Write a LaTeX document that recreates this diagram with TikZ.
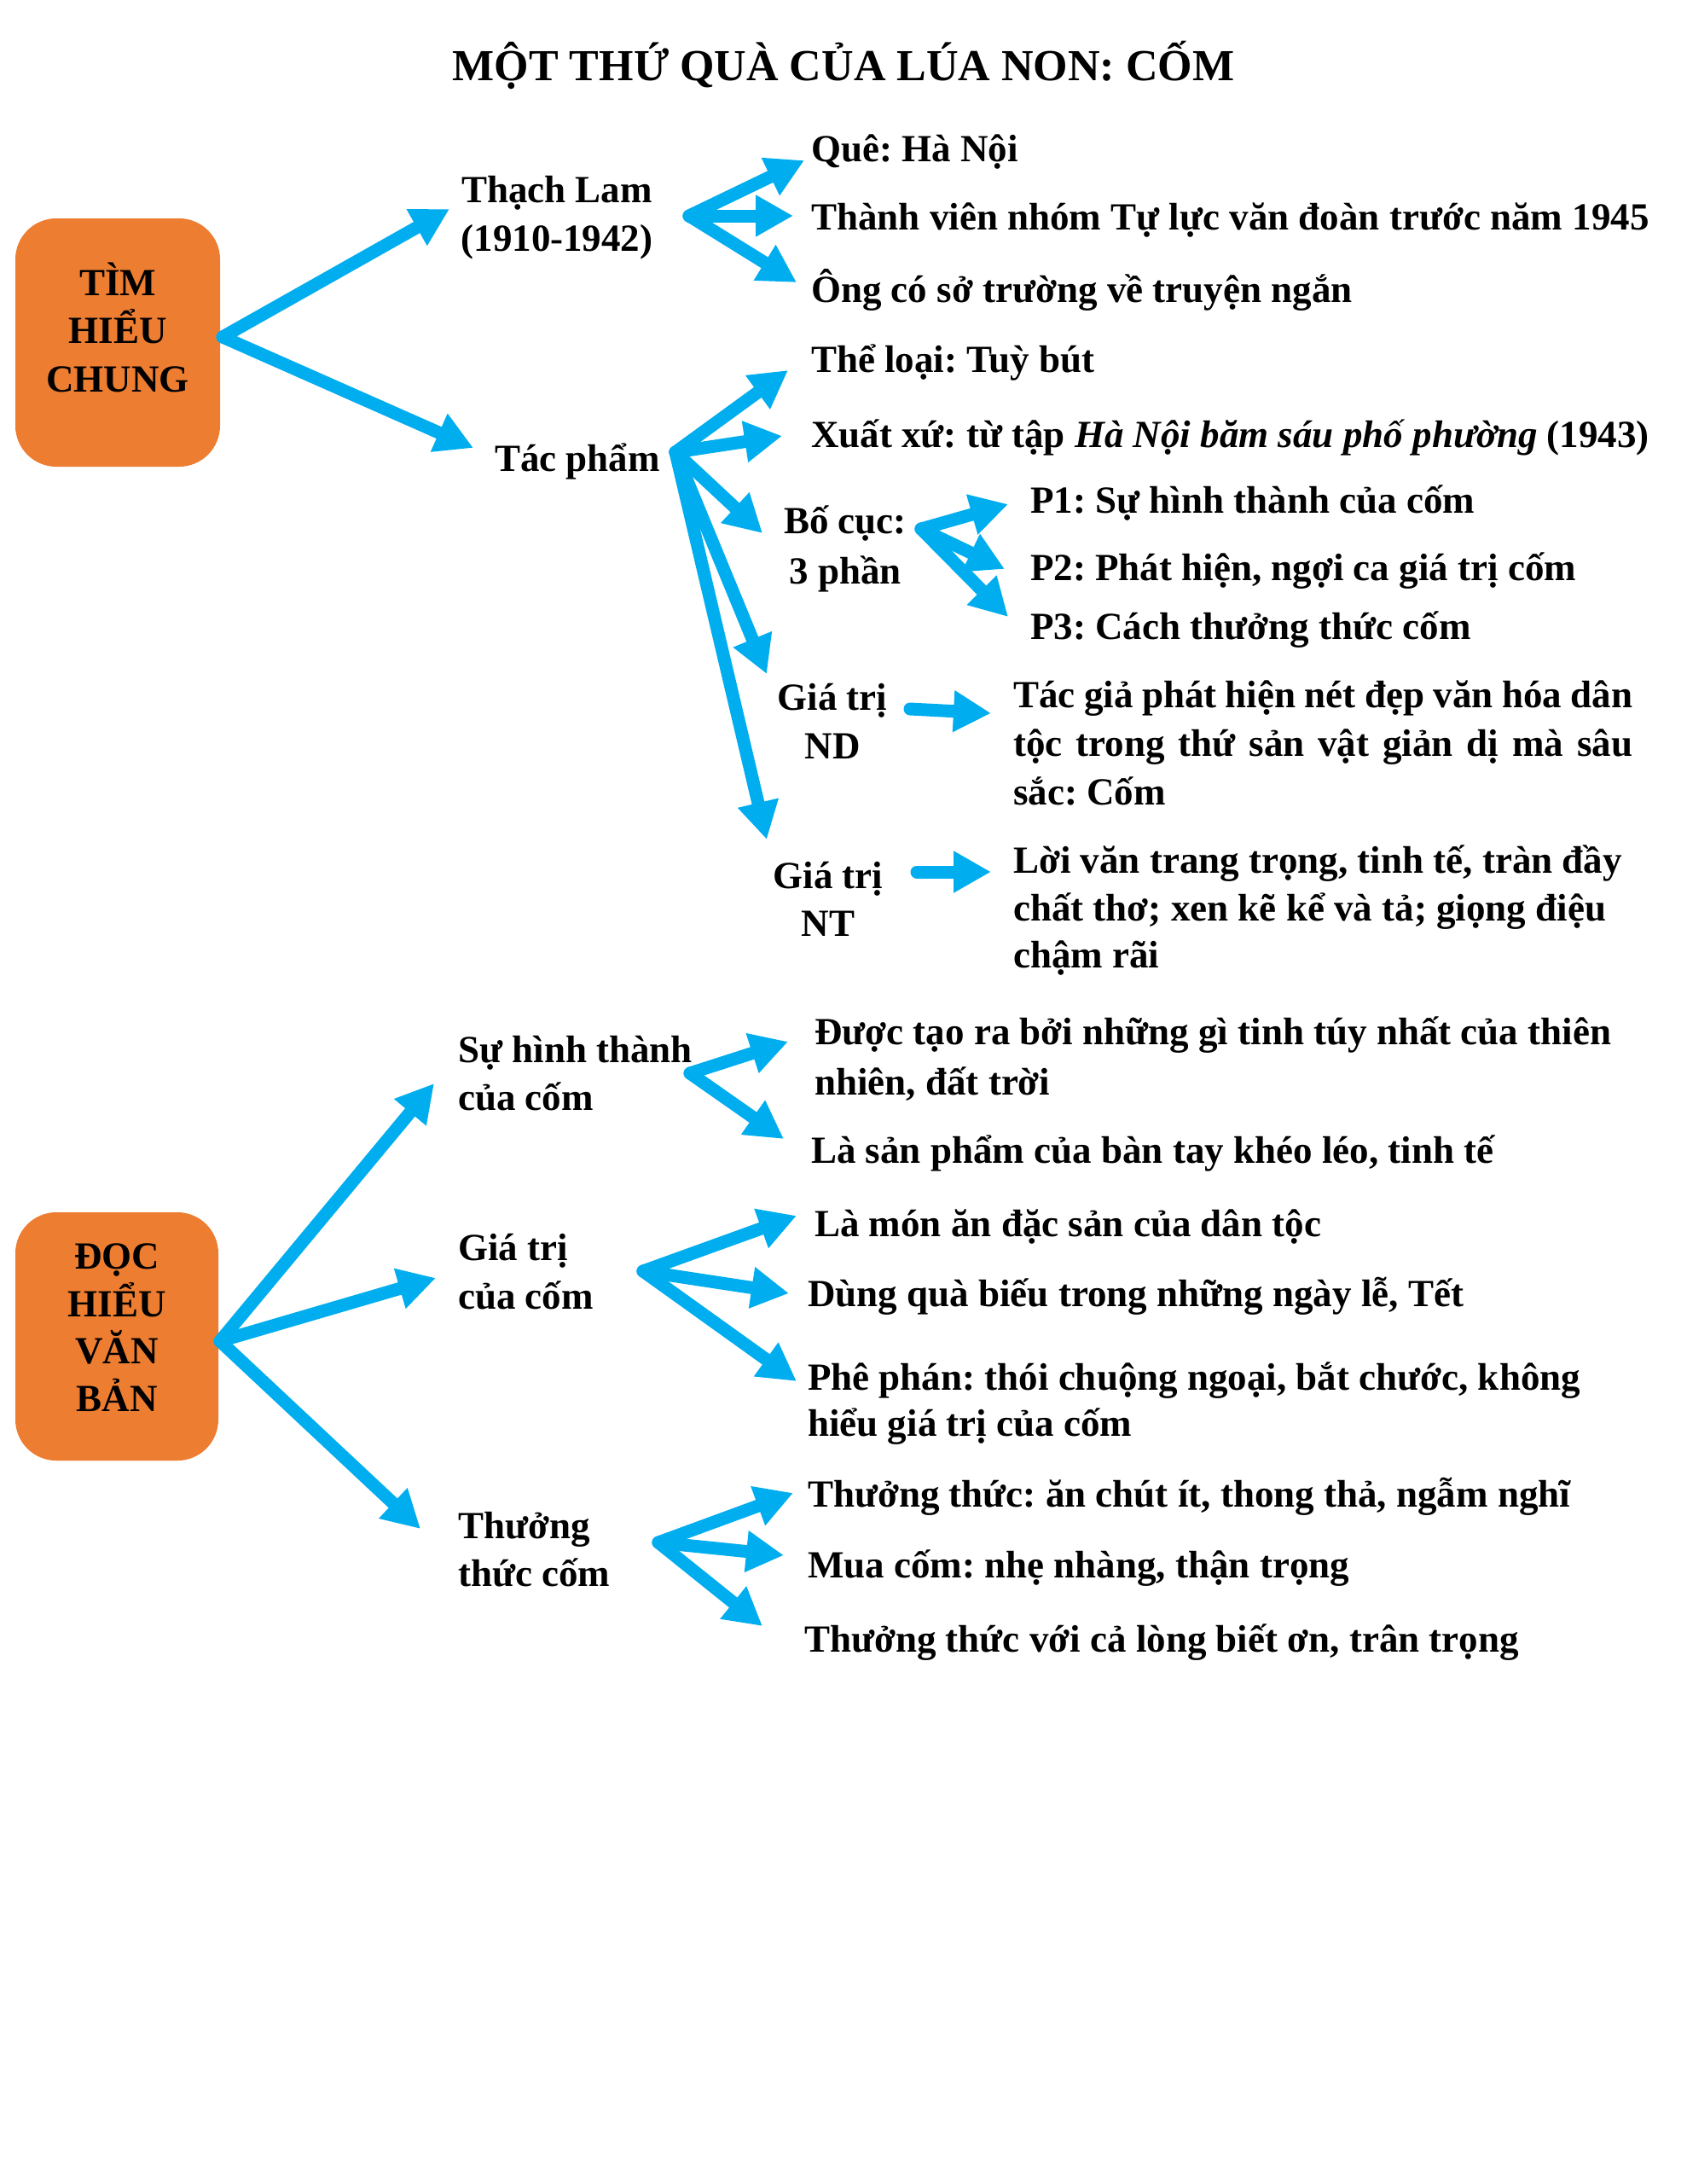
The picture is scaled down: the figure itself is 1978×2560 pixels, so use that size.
\documentclass[tikz,border=0pt]{standalone}
\usepackage{fontspec}
\setmainfont{Liberation Serif}
\frenchspacing
\usetikzlibrary{arrows.meta}
\definecolor{cy}{RGB}{0,174,239}
\definecolor{orng}{RGB}{237,125,49}
\tikzset{
  arr/.style={draw=cy, line width=15pt, line cap=round, -{Triangle[length=44pt,width=46pt]}},
  txt/.style={font=\fontsize{45}{57}\selectfont\bfseries, inner sep=0pt, anchor=base west},
  ctxt/.style={font=\fontsize{45}{57}\selectfont\bfseries, inner sep=0pt, anchor=base},
  box/.style={fill=orng, rounded corners=48pt},
}
\begin{document}
\begin{tikzpicture}[x=1pt,y=-1pt]
\frenchspacing
\useasboundingbox (0,0) rectangle (1978,2560);
\fill[white] (0,0) rectangle (1978,2560);
% title
\node[ctxt, font=\fontsize{52}{60}\selectfont\bfseries] (title) at (989,94) {MỘT THỨ QUÀ CỦA LÚA NON: CỐM};
% box 1
\path[box] (18,256) rectangle (258,547);
\node[ctxt] (b1a) at (138,346) {TÌM};
\node[ctxt] (b1b) at (138,402) {HIỂU};
\node[ctxt] (b1c) at (138,459) {CHUNG};
% box 2
\path[box] (18,1421) rectangle (256,1712);
\node[ctxt] (b2a) at (137,1487) {ĐỌC};
\node[ctxt] (b2b) at (137,1543) {HIỂU};
\node[ctxt] (b2c) at (137,1598) {VĂN};
\node[ctxt] (b2d) at (137,1654) {BẢN};
% level 1 part 1
\node[ctxt] (tl1) at (653,237) {Thạch Lam};
\node[ctxt] (tl2) at (653,294) {(1910-1942)};
\node[ctxt] (tp) at (677,552) {Tác phẩm};
\node[txt] (que) at (951,189) {Quê: Hà Nội};
\node[txt] (tv) at (951,269) {Thành viên nhóm Tự lực văn đoàn trước năm 1945};
\node[txt] (ong) at (951,354) {Ông có sở trường về truyện ngắn};
\node[txt] (tl) at (951,436) {Thể loại: Tuỳ bút};
\node[txt] (xx) at (951,524) {Xuất xứ: từ tập \textit{Hà Nội băm sáu phố phường} (1943)};
\node[ctxt] (bc1) at (991,625) {Bố cục:};
\node[ctxt] (bc2) at (991,684) {3 phần};
\node[txt] (p1) at (1208,601) {P1: Sự hình thành của cốm};
\node[txt] (p2) at (1208,680) {P2: Phát hiện, ngợi ca giá trị cốm};
\node[txt] (p3) at (1208,749) {P3: Cách thưởng thức cốm};
\node[ctxt] (nd1) at (976,832) {Giá trị};
\node[ctxt] (nd2) at (976,889) {ND};
\node[txt] (ndt1) at (1188,829) {\makebox[726pt][s]{Tác giả phát hiện nét đẹp văn hóa dân}};
\node[txt] (ndt2) at (1188,886) {\makebox[726pt][s]{tộc trong thứ sản vật giản dị mà sâu}};
\node[txt] (ndt3) at (1188,943) {sắc: Cốm};
\node[ctxt] (nt1) at (971,1041) {Giá trị};
\node[ctxt] (nt2) at (971,1097) {NT};
\node[txt] (ntt1) at (1188,1023) {Lời văn trang trọng, tinh tế, tràn đầy};
\node[txt] (ntt2) at (1188,1079) {chất thơ; xen kẽ kể và tả; giọng điệu};
\node[txt] (ntt3) at (1188,1134) {chậm rãi};
% part 2
\node[txt] (sh1) at (537,1245) {Sự hình thành};
\node[txt] (sh2) at (537,1301) {của cốm};
\node[txt] (gt1) at (537,1477) {Giá trị};
\node[txt] (gt2) at (537,1534) {của cốm};
\node[txt] (th1) at (537,1803) {Thưởng};
\node[txt] (th2) at (537,1859) {thức cốm};
\node[txt] (dt1) at (955,1224) {Được tạo ra bởi những gì tinh túy nhất của thiên};
\node[txt] (dt2) at (955,1283) {nhiên, đất trời};
\node[txt] (lsp) at (951,1363) {Là sản phẩm của bàn tay khéo léo, tinh tế};
\node[txt] (lma) at (955,1449) {Là món ăn đặc sản của dân tộc};
\node[txt] (dqb) at (947,1531) {Dùng quà biếu trong những ngày lễ, Tết};
\node[txt] (pp1) at (947,1629) {Phê phán: thói chuộng ngoại, bắt chước, không};
\node[txt] (pp2) at (947,1683) {hiểu giá trị của cốm};
\node[txt] (tt1) at (947,1766) {Thưởng thức: ăn chút ít, thong thả, ngẫm nghĩ};
\node[txt] (mc) at (947,1849) {Mua cốm: nhẹ nhàng, thận trọng};
\node[txt] (tt2) at (943,1936) {Thưởng thức với cả lòng biết ơn, trân trọng};
% arrow coordinates
\coordinate (s1) at (261,395);
\coordinate (s2) at (808,253);
\coordinate (s3) at (792,530);
\coordinate (s4) at (1080,620);
\coordinate (s5) at (258,1572);
\coordinate (s6) at (809,1258);
\coordinate (s7) at (754,1490);
\coordinate (s8) at (772,1808);
\coordinate (a1) at (527,245);
\coordinate (a2) at (555,525);
\coordinate (a3) at (943,188);
\coordinate (a4) at (930,253);
\coordinate (a5) at (934,331);
\coordinate (a6) at (924,434);
\coordinate (a7) at (917,511);
\coordinate (a8) at (894,625);
\coordinate (a9) at (899,790);
\coordinate (a10) at (899,984);
\coordinate (a11) at (1182,591);
\coordinate (a12) at (1178,667);
\coordinate (a13) at (1182,723);
\coordinate (nds) at (1067,831);
\coordinate (a14) at (1162,836);
\coordinate (nts) at (1075,1022);
\coordinate (a15) at (1162,1022);
\coordinate (a16) at (509,1270);
\coordinate (a17) at (511,1498);
\coordinate (a18) at (493,1792);
\coordinate (a19) at (924,1221);
\coordinate (a20) at (919,1335);
\coordinate (a21) at (934,1425);
\coordinate (a22) at (925,1516);
\coordinate (a23) at (934,1619);
\coordinate (a24) at (930,1750);
\coordinate (a25) at (919,1823);
\coordinate (a26) at (894,1906);
% arrows
\foreach \s/\t in {s1/a1,s1/a2,s2/a3,s2/a4,s2/a5,s3/a6,s3/a7,s3/a8,s3/a9,s3/a10,s4/a11,s4/a12,s4/a13,nds/a14,nts/a15,s5/a16,s5/a17,s5/a18,s6/a19,s6/a20,s7/a21,s7/a22,s7/a23,s8/a24,s8/a25,s8/a26}
  \draw[arr] (\s) -- (\t);
\end{tikzpicture}
\end{document}
